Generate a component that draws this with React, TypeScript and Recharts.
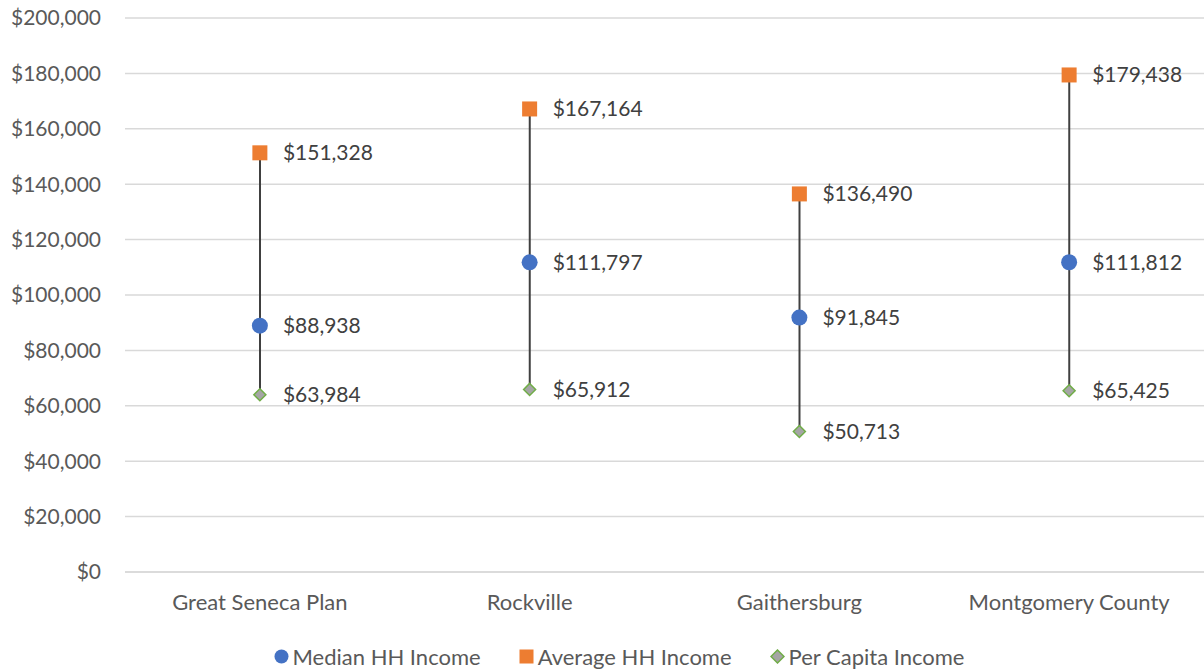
import React from 'react';
import {
  ComposedChart,
  Bar,
  Line,
  XAxis,
  YAxis,
  CartesianGrid,
  Legend,
  LabelList,
} from 'recharts';

const categories = ['Great Seneca Plan', 'Rockville', 'Gaithersburg', 'Montgomery County'];
const medianIncome = [88938, 111797, 91845, 111812];
const averageIncome = [151328, 167164, 136490, 179438];
const perCapitaIncome = [63984, 65912, 50713, 65425];
const yTicks = [0, 20000, 40000, 60000, 80000, 100000, 120000, 140000, 160000, 180000, 200000];

const FONT = 'Lato, "Open Sans", sans-serif';
const TEXT = '#595959';
const LABEL = '#404040';

const data = categories.map((name, i) => ({
  name,
  median: medianIncome[i],
  average: averageIncome[i],
  perCapita: perCapitaIncome[i],
  range: [
    Math.min(medianIncome[i], averageIncome[i], perCapitaIncome[i]),
    Math.max(medianIncome[i], averageIncome[i], perCapitaIncome[i]),
  ],
}));

const money = (v: number) => '$' + Number(v).toLocaleString('en-US');

const CircleDot = (props: any) => {
  const { cx, cy } = props;
  if (cx == null || cy == null) return null;
  return <circle cx={cx} cy={cy} r={8} fill="#4472c4" />;
};

const SquareDot = (props: any) => {
  const { cx, cy } = props;
  if (cx == null || cy == null) return null;
  return <rect x={cx - 7.5} y={cy - 7.5} width={15} height={15} fill="#ed7d31" />;
};

const DiamondDot = (props: any) => {
  const { cx, cy } = props;
  if (cx == null || cy == null) return null;
  const s = 6;
  return (
    <path
      d={`M${cx},${cy - s} L${cx + s},${cy} L${cx},${cy + s} L${cx - s},${cy} Z`}
      fill="#a5a5a5"
      stroke="#70ad47"
      strokeWidth={1.5}
    />
  );
};

const legendItems = [
  { label: 'Median HH Income', icon: 'circle' },
  { label: 'Average HH Income', icon: 'square' },
  { label: 'Per Capita Income', icon: 'diamond' },
];

const LegendContent = () => (
  <div
    style={{
      display: 'flex',
      justifyContent: 'center',
      alignItems: 'center',
      gap: 38,
      fontFamily: FONT,
      fontSize: 22,
      color: TEXT,
      paddingLeft: 34,
      paddingTop: 3,
    }}
  >
    {legendItems.map((item) => (
      <div key={item.label} style={{ display: 'flex', alignItems: 'center', gap: 4 }}>
        <svg width={15} height={15}>
          {item.icon === 'circle' && <circle cx={7.5} cy={7.5} r={7} fill="#4472c4" />}
          {item.icon === 'square' && <rect x={0.5} y={0.5} width={14} height={14} fill="#ed7d31" />}
          {item.icon === 'diamond' && (
            <path d="M7.5,1 L14,7.5 L7.5,14 L1,7.5 Z" fill="#a5a5a5" stroke="#70ad47" strokeWidth={1.5} />
          )}
        </svg>
        <span>{item.label}</span>
      </div>
    ))}
  </div>
);

export default function App() {
  return (
    <div style={{ position: 'absolute', left: 0, top: 0, background: '#fff' }}>
      <ComposedChart
        width={1204}
        height={670}
        data={data}
        margin={{ top: 18, right: 0, bottom: 0, left: 0 }}
        style={{ fontFamily: FONT }}
      >
        <CartesianGrid vertical={false} stroke="#d9d9d9" strokeWidth={1.5} />
        <XAxis
          dataKey="name"
          height={68}
          axisLine={{ stroke: '#d9d9d9', strokeWidth: 1.5 }}
          tickLine={false}
          tickSize={0}
          tickMargin={22}
          tick={{ fill: TEXT, fontSize: 22, fontFamily: FONT }}
        />
        <YAxis
          width={125}
          domain={[0, 200000]}
          ticks={yTicks}
          tickFormatter={money}
          axisLine={false}
          tickLine={false}
          tickSize={0}
          tickMargin={24}
          tick={{ fill: TEXT, fontSize: 21, fontFamily: FONT }}
        />
        <Legend verticalAlign="bottom" height={30} content={<LegendContent />} />
        <Bar dataKey="range" barSize={2} fill="#404040" isAnimationActive={false} legendType="none" />
        <Line
          dataKey="average"
          stroke="none"
          dot={<SquareDot />}
          activeDot={false}
          isAnimationActive={false}
        >
          <LabelList dataKey="average" position="right" offset={23} formatter={money} fill={LABEL} fontSize={21} fontFamily={FONT} />
        </Line>
        <Line
          dataKey="median"
          stroke="none"
          dot={<CircleDot />}
          activeDot={false}
          isAnimationActive={false}
        >
          <LabelList dataKey="median" position="right" offset={23} formatter={money} fill={LABEL} fontSize={21} fontFamily={FONT} />
        </Line>
        <Line
          dataKey="perCapita"
          stroke="none"
          dot={<DiamondDot />}
          activeDot={false}
          isAnimationActive={false}
        >
          <LabelList dataKey="perCapita" position="right" offset={23} formatter={money} fill={LABEL} fontSize={21} fontFamily={FONT} />
        </Line>
      </ComposedChart>
    </div>
  );
}
